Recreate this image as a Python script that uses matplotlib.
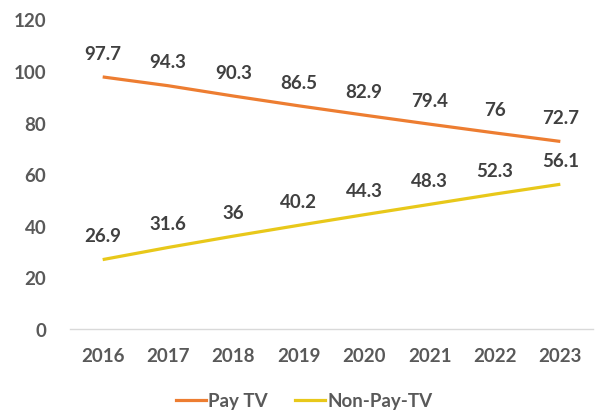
import matplotlib
matplotlib.use("Agg")
import matplotlib.pyplot as plt
from matplotlib.lines import Line2D

years = ["2016", "2017", "2018", "2019", "2020", "2021", "2022", "2023"]
pay_tv = [97.7, 94.3, 90.3, 86.5, 82.9, 79.4, 76, 72.7]
non_pay_tv = [26.9, 31.6, 36, 40.2, 44.3, 48.3, 52.3, 56.1]
pay_labels = ["97.7", "94.3", "90.3", "86.5", "82.9", "79.4", "76", "72.7"]
non_pay_labels = ["26.9", "31.6", "36", "40.2", "44.3", "48.3", "52.3", "56.1"]
y_ticks = [0, 20, 40, 60, 80, 100, 120]

ORANGE = "#ED7D31"
YELLOW = "#E8C81A"
TICK_COLOR = "#595959"
LABEL_COLOR = "#404040"
FS = 13.5

plt.rcParams["font.family"] = ["Lato", "DejaVu Sans"]

fig = plt.figure(figsize=(5.95, 4.14), dpi=100)
ax = fig.add_axes([70 / 595, 84 / 414, 523 / 595, 309.6 / 414])

x = list(range(len(years)))
ax.plot(x, pay_tv, color=ORANGE, lw=2.3, solid_capstyle="butt")
ax.plot(x, non_pay_tv, color=YELLOW, lw=2.3, solid_capstyle="butt")

for xi, v, t in zip(x, pay_tv, pay_labels):
    ax.annotate(t, (xi, v), xytext=(0, 11), textcoords="offset points",
                ha="center", va="bottom", fontsize=FS, fontweight="bold",
                color=LABEL_COLOR)
for xi, v, t in zip(x, non_pay_tv, non_pay_labels):
    ax.annotate(t, (xi, v), xytext=(0, 11), textcoords="offset points",
                ha="center", va="bottom", fontsize=FS, fontweight="bold",
                color=LABEL_COLOR)

ax.set_xlim(-0.5, len(years) - 0.5)
ax.set_ylim(0, 120)
ax.set_yticks(y_ticks)
ax.set_yticklabels([str(v) for v in y_ticks])
ax.set_xticks(x)
ax.set_xticklabels(years)

for s in ["top", "right", "left"]:
    ax.spines[s].set_visible(False)
ax.spines["bottom"].set_color("#D9D9D9")
ax.spines["bottom"].set_linewidth(1.0)

ax.tick_params(axis="both", length=0, labelsize=FS, labelcolor=TICK_COLOR)
ax.tick_params(axis="y", pad=17)
ax.tick_params(axis="x", pad=13)
for lbl in ax.get_xticklabels() + ax.get_yticklabels():
    lbl.set_fontweight("bold")

handles = [Line2D([], [], color=ORANGE, lw=2.3),
           Line2D([], [], color=YELLOW, lw=2.3)]
leg = fig.legend(handles, ["Pay TV", "Non-Pay-TV"], loc="center",
                 bbox_to_anchor=(304 / 595, 12 / 414), ncol=2, frameon=False,
                 handlelength=1.6, handletextpad=0.1, columnspacing=1.5,
                 prop={"size": FS, "weight": "bold"})
for t in leg.get_texts():
    t.set_color(TICK_COLOR)

fig.savefig("out.png", dpi=100)
